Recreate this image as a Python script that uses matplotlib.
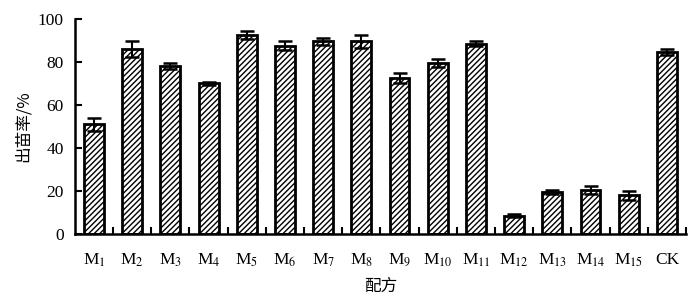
import numpy as np
import matplotlib
matplotlib.use("Agg")
from matplotlib import pyplot as plt

plt.rcParams['font.family'] = ['Liberation Serif', 'Noto Sans CJK SC']
plt.rcParams['mathtext.fontset'] = 'stix'
plt.rcParams['hatch.linewidth'] = 1.0

labels = ['M$_{1}$', 'M$_{2}$', 'M$_{3}$', 'M$_{4}$', 'M$_{5}$', 'M$_{6}$', 'M$_{7}$', 'M$_{8}$',
          'M$_{9}$', 'M$_{10}$', 'M$_{11}$', 'M$_{12}$', 'M$_{13}$', 'M$_{14}$', 'M$_{15}$', 'CK']
rate = [51, 86, 78, 70, 92.5, 87.5, 89.5, 89.5, 72.5, 79.5, 88.5, 8.5, 19.5, 20.5, 18, 84.5]
err = [3, 3.5, 1.5, 0.6, 2, 2, 1.5, 3, 2.5, 2, 1, 0.6, 1, 2, 2, 1.5]

fig = plt.figure(figsize=(7, 3.05), dpi=100)
ax = fig.add_axes([0.107, 0.233, 0.873, 0.705])

x = np.arange(len(labels))
ax.bar(x, rate, width=0.52, color='white', edgecolor='black', linewidth=2, hatch='//////')
ax.errorbar(x, rate, yerr=err, fmt='none', ecolor='black', elinewidth=1.5, capsize=5, capthick=1.8)

ax.set_xlim(-0.5, len(labels) - 0.5)
ax.set_ylim(0, 100)
ax.set_yticks([0, 20, 40, 60, 80, 100])
ax.set_xticks(x)
ax.set_xticklabels(labels)
ax.set_xticks(np.arange(0.5, len(labels)), minor=True)
ax.tick_params(axis='x', which='major', length=0, pad=13, labelsize=12.5)
ax.tick_params(axis='x', which='minor', direction='in', length=5, width=1.5)
ax.tick_params(axis='y', direction='in', length=5, width=1.5, labelsize=12.5, pad=8)

for s in ['top', 'right']:
    ax.spines[s].set_visible(False)
for s in ['left', 'bottom']:
    ax.spines[s].set_linewidth(1.8)

ax.set_ylabel('出苗率/%', fontsize=12, family=['Noto Sans CJK SC', 'DejaVu Sans'], labelpad=4)
ax.set_xlabel('配方', fontsize=12, family=['Noto Sans CJK SC', 'DejaVu Sans'], labelpad=6)

fig.savefig('out.png', dpi=100)
